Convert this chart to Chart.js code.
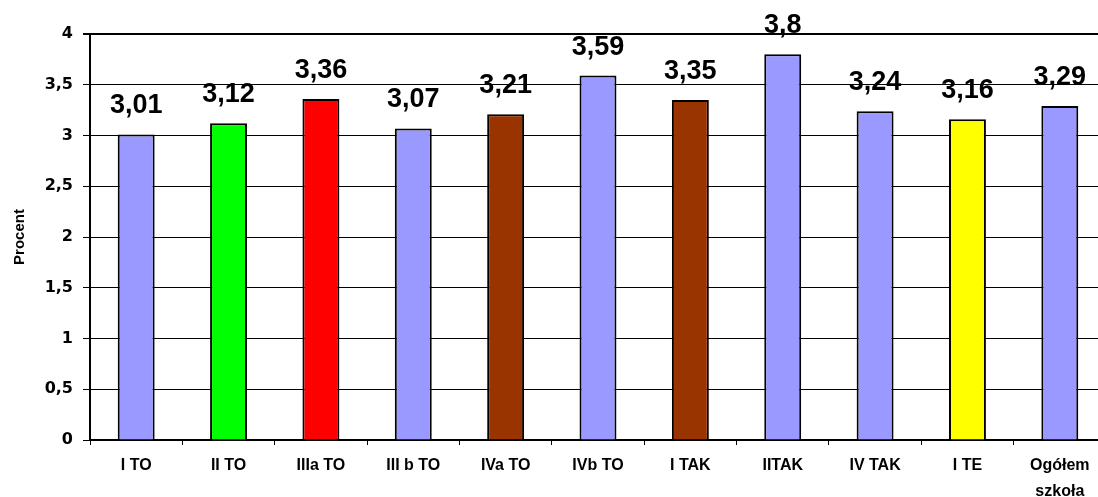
<!DOCTYPE html>
<html>
<head>
<meta charset="utf-8">
<script src="https://cdn.jsdelivr.net/npm/chart.js@4/dist/chart.umd.min.js"></script>
<style>
  html, body { margin: 0; padding: 0; background: #fff; overflow: hidden; }
  #wrap { width: 1106px; height: 497px; }
</style>
</head>
<body>
<div id="wrap"><canvas id="c" width="1106" height="497"></canvas></div>
<script>
const categories = ['I TO', 'II TO', 'IIIa TO', 'III b TO', 'IVa TO', 'IVb TO', 'I TAK', 'IITAK', 'IV TAK', 'I TE', ['Ogółem', 'szkoła']];
const values = [3.01, 3.12, 3.36, 3.07, 3.21, 3.59, 3.35, 3.8, 3.24, 3.16, 3.29];
const barColors = ['#9999FF', '#00FF00', '#FF0000', '#9999FF', '#993300', '#9999FF', '#993300', '#9999FF', '#9999FF', '#FFFF00', '#9999FF'];
const valueLabels = ['3,01', '3,12', '3,36', '3,07', '3,21', '3,59', '3,35', '3,8', '3,24', '3,16', '3,29'];
const yTickMin = 0, yTickMax = 4, yTickStep = 0.5;

const FONT = 'Arial, "Liberation Sans", sans-serif';
const WIDE = '"DejaVu Sans", Verdana, sans-serif';

const valueLabelPlugin = {
  id: 'valueLabels',
  afterDatasetsDraw(chart) {
    const ctx = chart.ctx;
    const meta = chart.getDatasetMeta(0);
    ctx.save();
    ctx.font = 'bold 27px ' + FONT;
    ctx.fillStyle = '#000';
    ctx.textAlign = 'center';
    ctx.textBaseline = 'alphabetic';
    meta.data.forEach((bar, i) => {
      ctx.fillText(valueLabels[i], bar.x, bar.y - 21);
    });
    ctx.restore();
  }
};

new Chart(document.getElementById('c'), {
  type: 'bar',
  data: {
    labels: categories,
    datasets: [{
      data: values,
      backgroundColor: barColors,
      borderColor: '#000',
      borderWidth: 2,
      categoryPercentage: 1,
      barPercentage: 0.4
    }]
  },
  options: {
    responsive: false,
    animation: false,
    devicePixelRatio: 1,
    layout: { padding: { top: 34, right: 0, left: 0, bottom: 0 } },
    plugins: { legend: { display: false }, tooltip: { enabled: false } },
    scales: {
      x: {
        offset: true,
        grid: { display: true, offset: true, drawOnChartArea: false, drawTicks: true, tickLength: 5, color: '#000', lineWidth: 1 },
        border: { display: true, color: '#000', width: 2 },
        ticks: {
          color: '#000',
          font: { family: FONT, size: 16, weight: 'bold', lineHeight: 1.65 },
          padding: 7,
          maxRotation: 0,
          autoSkip: false
        },
        afterFit(scale) { scale.height = 57; }
      },
      y: {
        min: yTickMin,
        max: yTickMax,
        grid: {
          color: '#000',
          lineWidth: (c) => (c.tick && c.tick.value === yTickMax ? 2 : 1),
          drawTicks: true,
          tickLength: 7
        },
        border: { display: true, color: '#000', width: 2 },
        ticks: {
          stepSize: yTickStep,
          color: '#000',
          padding: 10,
          font: { family: WIDE, size: 16, weight: 'bold' },
          callback: (v) => String(v).replace('.', ',')
        },
        title: {
          display: true,
          text: 'Procent',
          color: '#000',
          font: { family: FONT, size: 15, weight: 'bold' },
          padding: { top: 11, bottom: 0 }
        },
        afterFit(scale) { scale.width = 90; }
      }
    }
  },
  plugins: [valueLabelPlugin]
});
</script>
</body>
</html>
